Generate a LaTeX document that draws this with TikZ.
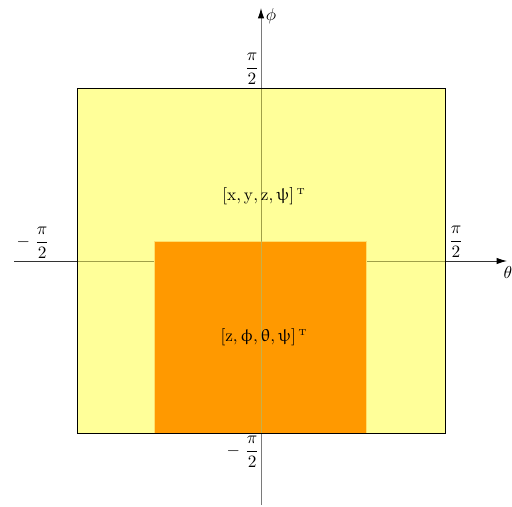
\documentclass[tikz,border=0pt]{standalone}
\usepackage{amsmath}
\usepackage{upgreek}
\usetikzlibrary{arrows.meta}
\definecolor{lightyel}{HTML}{FFFF99}
\definecolor{orng}{HTML}{FF9900}
\definecolor{axgray}{HTML}{7A7A7A}
\definecolor{axolive}{HTML}{A0A048}
\definecolor{axorange}{HTML}{C8B048}
\tikzset{
  axis/.style={line width=0.6pt,-{Latex[length=6.5pt,width=4pt,color=black]}},
  lbl/.style={inner sep=1pt,scale=1.08},
}
\begin{document}
\begin{tikzpicture}[x=0.625pt,y=-0.625pt]
\useasboundingbox (0,0) rectangle (512,506);
\coordinate (hs) at (14,261);
\coordinate (he) at (507,261);
\coordinate (vs) at (261,505);
\coordinate (ve) at (261,8);
% axes
\draw[axis,color=black!80] (hs) -- (he);
\draw[axis,color=axgray] (vs) -- (ve);
% yellow box
\fill[lightyel] (77,88) rectangle (445,433);
\draw[axolive,line width=0.6pt] (77,261) -- (445,261);
% orange box
\fill[orng] (154,241) rectangle (366,433);
\draw[lightyel!70!orng,line width=0.4pt] (154,433) -- (154,241) -- (366,241) -- (366,433);
% vertical axis over boxes
\draw[axolive,line width=0.6pt] (261,433) -- (261,88);
\draw[axorange,line width=0.6pt] (261,433) -- (261,241);
% yellow border on top
\draw[black,line width=0.6pt] (77,88) rectangle (445,433);
% labels
\node[lbl] (phi) at (271,16) {$\phi$};
\node[lbl] (theta) at (508,272) {$\theta$};
\node[lbl] (ptop) at (252,69) {$\dfrac{\pi}{2}$};
\node[lbl] (pleft) at (33,243) {$-\;\dfrac{\pi}{2}$};
\node[lbl] (pright) at (456,242) {$\dfrac{\pi}{2}$};
\node[lbl] (pbot) at (243,452) {$-\;\dfrac{\pi}{2}$};
\node[lbl] (s1) at (264,196) {$[\mathrm{x},\mathrm{y},\mathrm{z},\uppsi]^{\,\scriptscriptstyle\mathrm{T}}$};
\node[lbl] (s2) at (264,337) {$[\mathrm{z},\upphi,\uptheta,\uppsi]^{\,\scriptscriptstyle\mathrm{T}}$};
\end{tikzpicture}
\end{document}
